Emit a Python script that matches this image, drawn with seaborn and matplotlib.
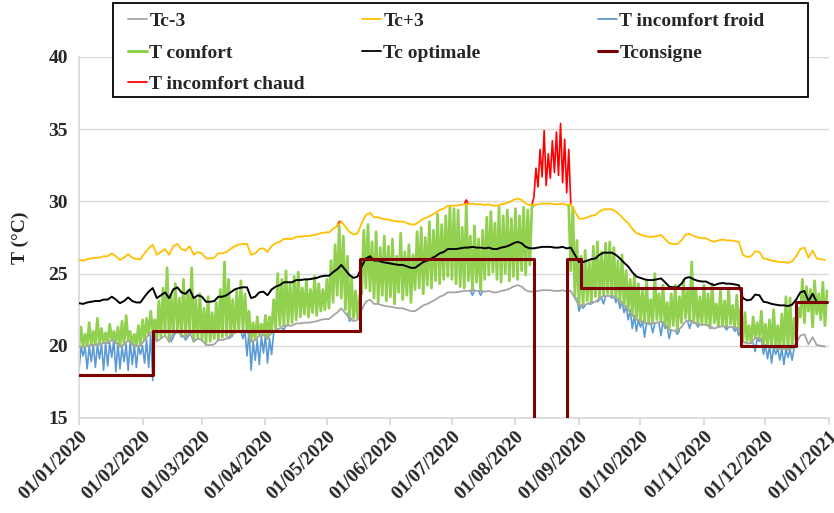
import numpy as np
import pandas as pd
import matplotlib
matplotlib.use('Agg')
import matplotlib.pyplot as plt
import matplotlib.dates as mdates
from matplotlib.lines import Line2D
from matplotlib.patches import Rectangle
import seaborn as sns

# Données (un point tous les 2 jours)
# Tc optimale, du 01/01 au 30/12
tc = np.array([
    22.95, 22.9, 23.0, 23.05, 23.1, 23.1, 23.2, 23.2, 23.4, 23.2, 22.95, 23.1, 23.35, 23.1, 23.0, 23.0,   # jan
    23.4, 23.75, 24.0, 23.3, 23.5, 23.7, 23.3, 23.9, 24.05, 23.7, 23.6, 23.9, 23.3, 23.5,                 # fev
    23.4, 23.05, 23.05, 23.1, 23.4, 23.4, 23.5, 23.7, 23.9, 24.0, 24.05, 24.05, 23.3, 23.4, 23.7, 23.75,  # mar
    23.5, 23.9, 24.1, 24.2, 24.4, 24.4, 24.4, 24.55, 24.55, 24.6, 24.6, 24.65, 24.7, 24.8, 24.85,         # avr
    24.85, 25.1, 25.3, 25.6, 25.25, 24.9, 24.7, 24.8, 25.5, 26.05, 26.2, 25.9, 25.9, 25.8, 25.75,         # mai
    25.7, 25.65, 25.6, 25.6, 25.5, 25.4, 25.4, 25.6, 25.8, 25.9, 26.05, 26.2, 26.4, 26.5, 26.7,           # juin
    26.7, 26.7, 26.75, 26.8, 26.8, 26.85, 26.8, 26.8, 26.75, 26.8, 26.7, 26.7, 26.8, 26.85, 26.95, 27.1,  # juil
    27.2, 27.1, 26.85, 26.75, 26.75, 26.8, 26.85, 26.85, 26.85, 26.8, 26.8, 26.85, 26.75, 26.8, 26.3,     # aout
    25.8, 25.8, 25.9, 26.0, 26.05, 26.3, 26.45, 26.45, 26.45, 26.3, 26.05, 25.75, 25.5, 25.1, 24.8,       # sep
    24.7, 24.6, 24.55, 24.55, 24.6, 24.67, 24.4, 24.1, 24.05, 24.05, 24.3, 24.7, 24.75, 24.6, 24.5, 24.45,  # oct
    24.45, 24.3, 24.2, 24.3, 24.35, 24.3, 24.3, 24.25, 24.2, 23.3, 23.15, 23.2, 23.55, 23.5, 23.05,       # nov
    23.0, 22.9, 22.85, 22.8, 22.8, 22.75, 22.85, 23.2, 23.7, 23.8, 23.1, 23.6, 23.05, 23.0, 22.95,        # dec
])

# Temperature interieure : minimum (jour pair) et maximum (jour impair)
t_min = np.array([
    18.3, 19.3, 18.4, 18.9, 18.5, 19.1, 18.3, 18.6, 19.2, 18.2, 18.4, 18.9, 18.3, 18.7, 18.5, 19.4,
    18.8, 18.5, 17.6, 20.4, 20.6, 20.8, 20.3, 20.6, 20.9, 20.6, 20.4, 20.8, 20.3, 20.5,
    20.4, 20.2, 20.3, 20.5, 20.4, 20.6, 20.7, 20.6, 20.9, 21.0, 20.5, 19.3, 18.3, 19.0, 18.7, 19.5,
    18.8, 19.4, 21.2, 21.4, 21.1, 21.5, 21.6, 21.8, 22.0, 22.2, 22.0, 22.3, 22.1, 22.4, 22.5,
    22.6, 23.0, 23.5, 23.3, 22.5, 21.7, 21.9, 21.9, 23.6, 24.0, 23.8, 23.3, 23.0, 23.5, 23.1,
    23.4, 22.9, 23.7, 23.2, 23.5, 23.0, 23.9, 24.0, 23.6, 24.2, 24.0, 24.5, 24.3, 24.6, 24.8,
    24.6, 24.3, 24.1, 24.0, 24.5, 23.5, 24.4, 23.5, 24.6, 24.9, 25.1, 24.6, 24.4, 25.0, 24.5, 24.8,
    24.6, 25.2, 24.9, 25.6, 30.3, 31.0, 31.7, 31.1, 31.6, 32.0, 31.8, 31.3, 30.6, 25.2, 23.4,
    22.4, 22.6, 23.1, 22.9, 23.4, 23.2, 22.9, 23.6, 23.3, 23.0, 22.6, 22.3, 21.8, 21.2, 21.0,
    21.3, 20.6, 21.5, 20.9, 21.8, 20.7, 21.2, 20.5, 21.4, 20.8, 21.6, 21.9, 21.2, 21.6, 21.3, 21.5,
    21.5, 21.2, 21.6, 21.3, 21.4, 21.1, 21.5, 21.0, 20.7, 20.4, 20.3, 20.2, 19.6, 20.3, 19.4,
    19.1, 18.8, 19.4, 19.0, 18.7, 19.2, 19.0, 20.3, 22.0, 21.6, 22.4, 21.3, 22.2, 21.8, 21.4,
])
t_max = np.array([
    21.3, 20.8, 21.6, 21.0, 21.9, 21.2, 20.9, 21.5, 21.0, 21.3, 21.7, 22.1, 21.0, 20.8, 21.4, 21.8,
    21.9, 22.4, 21.8, 23.1, 24.0, 25.4, 23.5, 24.3, 23.3, 24.6, 23.8, 25.4, 23.2, 23.6,
    22.6, 23.4, 22.3, 23.0, 23.9, 25.8, 24.6, 23.2, 23.8, 24.5, 23.6, 22.4, 21.6, 22.0, 21.5, 22.1,
    22.0, 23.2, 25.0, 24.6, 25.2, 24.3, 24.8, 25.1, 24.0, 24.6, 23.9, 24.8, 24.3, 23.9, 24.6,
    25.9, 27.0, 28.6, 27.6, 26.2, 24.8, 23.8, 23.5, 28.0, 28.4, 27.2, 27.9, 26.8, 27.6, 26.9,
    27.4, 26.2, 27.8, 26.5, 27.0, 26.3, 27.9, 28.2, 27.5, 28.6, 28.0, 29.1, 28.4, 29.0, 29.6,
    29.5, 29.4, 28.2, 30.1, 27.6, 28.3, 27.4, 28.0, 28.9, 29.3, 28.5, 29.6, 29.0, 29.4, 28.8, 29.5,
    29.0, 29.6, 29.4, 29.6, 32.3, 33.6, 34.9, 33.3, 34.2, 34.8, 35.4, 34.3, 33.6, 29.6, 27.3,
    26.2, 26.6, 25.8, 26.9, 27.2, 26.5, 27.1, 27.2, 26.8, 25.9, 26.3, 25.2, 24.6, 24.9, 24.3,
    23.8, 24.5, 23.2, 25.0, 23.6, 24.2, 23.0, 23.6, 24.2, 23.4, 24.6, 23.8, 25.8, 24.0, 23.4, 24.2,
    23.6, 24.3, 22.9, 23.8, 23.1, 24.0, 22.8, 23.5, 22.6, 22.3, 21.4, 22.0, 21.6, 22.4, 21.5,
    21.8, 22.5, 21.4, 22.2, 23.4, 23.3, 21.9, 22.6, 24.6, 24.1, 23.9, 24.5, 23.6, 24.4, 23.8,
])

# Tconsigne (paliers)
consigne_dates = pd.to_datetime(['2020-01-01', '2020-02-06', '2020-05-17', '2020-08-10',
                                 '2020-08-26', '2020-09-02', '2020-11-19', '2020-12-16', '2020-12-31'])
consigne_vals = [18, 21, 26, 0, 26, 24, 20, 23, 23]

jours = pd.date_range('2020-01-01', '2020-12-31', freq='D')
jours_tc = jours[::2]

# Serie T complete et bornes de confort
t = np.empty(len(jours))
t[0::2] = t_min
t[1::2] = t_max
bas = np.repeat(tc - 3, 2)
haut = np.repeat(tc + 3, 2)

froid = t < bas
chaud = t > haut
hors = froid | chaud


def voisins(masque):
    # garde les points du masque et leurs voisins pour relier les pics
    m = masque.copy()
    m[1:] |= masque[:-1]
    m[:-1] |= masque[1:]
    return m


t_froid = np.where(voisins(froid), np.minimum(t, bas), np.nan)
t_chaud = np.where(voisins(chaud), np.maximum(t, haut), np.nan)
t_comfort = np.where(voisins(~hors), np.clip(t, bas, haut), np.nan)

sns.set_theme(style='white')
plt.rcParams['font.family'] = ['Liberation Serif', 'DejaVu Serif']
plt.rcParams['font.weight'] = 'bold'

fig = plt.figure(figsize=(8.34, 5.13), dpi=100)
ax = fig.add_axes([0.0947, 0.1852, 0.8993, 0.7037])

c_gris = '#A5A5A5'
c_orange = '#FFC000'
c_bleu = '#5B9BD5'
c_vert = '#92D050'
c_rouge = '#FF0000'
c_bordeaux = '#7F0000'

ax.plot(jours, t_froid, color=c_bleu, lw=1.2, zorder=2)
ax.plot(jours, t_chaud, color=c_rouge, lw=1.2, zorder=2)
ax.plot(jours, t_comfort, color=c_vert, lw=2.0, zorder=2)

sns.lineplot(x=jours_tc, y=tc - 3, color=c_gris, lw=1.3, ax=ax, zorder=3)
sns.lineplot(x=jours_tc, y=tc + 3, color=c_orange, lw=1.3, ax=ax, zorder=3)
sns.lineplot(x=jours_tc, y=tc, color='black', lw=1.4, ax=ax, zorder=4)
sns.lineplot(x=consigne_dates, y=consigne_vals, color=c_bordeaux, lw=2.2,
             drawstyle='steps-post', ax=ax, zorder=5)

ax.set_xlim(pd.Timestamp('2020-01-01'), pd.Timestamp('2021-01-01'))
ax.set_ylim(15, 40)
ax.set_yticks([15, 20, 25, 30, 35, 40])
ax.yaxis.grid(True, color='#D9D9D9', lw=1.0)
ax.xaxis.grid(False)
ax.set_axisbelow(True)

ax.xaxis.set_major_locator(mdates.MonthLocator())
ax.xaxis.set_major_formatter(mdates.DateFormatter('%d/%m/%Y'))
ax.tick_params(axis='x', which='major', length=5, color='#D9D9D9', direction='out',
               labelsize=14, pad=2, bottom=True)
ax.tick_params(axis='y', length=0, labelsize=14, pad=8)
for lab in ax.get_xticklabels():
    lab.set_rotation(45)
    lab.set_ha('right')
    lab.set_va('top')
    lab.set_rotation_mode('anchor')
    lab.set_fontweight('bold')
for lab in ax.get_yticklabels():
    lab.set_fontweight('bold')

for s in ['top', 'right']:
    ax.spines[s].set_visible(False)
ax.spines['left'].set_color('#D9D9D9')
ax.spines['bottom'].set_color('#D9D9D9')

ax.set_xlabel('')
ax.set_ylabel('T (°C)', fontsize=14, fontweight='bold', labelpad=14)

# Legende encadree, 3 colonnes
fig.add_artist(Rectangle((0.1355, 0.8109), 0.8333, 0.1832, transform=fig.transFigure,
                         facecolor='white', edgecolor='black', lw=1.3, zorder=4))

colonnes = [
    [('Tc-3', c_gris, 1.3), ('T comfort', c_vert, 2.2), ('T incomfort chaud', c_rouge, 1.3)],
    [('Tc+3', c_orange, 1.3), ('Tc optimale', 'black', 1.3)],
    [('T incomfort froid', c_bleu, 1.3), ('Tconsigne', c_bordeaux, 2.2)],
]
x_cols = [0.1535, 0.434, 0.717]
for x0, col in zip(x_cols, colonnes):
    handles = [Line2D([], [], color=c, lw=w) for _, c, w in col]
    labels = [n for n, _, _ in col]
    fig.legend(handles, labels, loc='upper left', bbox_to_anchor=(x0, 0.976),
               frameon=False, borderpad=0, borderaxespad=0, handlelength=1.0,
               handletextpad=0.1, labelspacing=0.72,
               prop={'family': 'Liberation Serif', 'weight': 'bold', 'size': 14})

fig.savefig('out.png', dpi=100)
